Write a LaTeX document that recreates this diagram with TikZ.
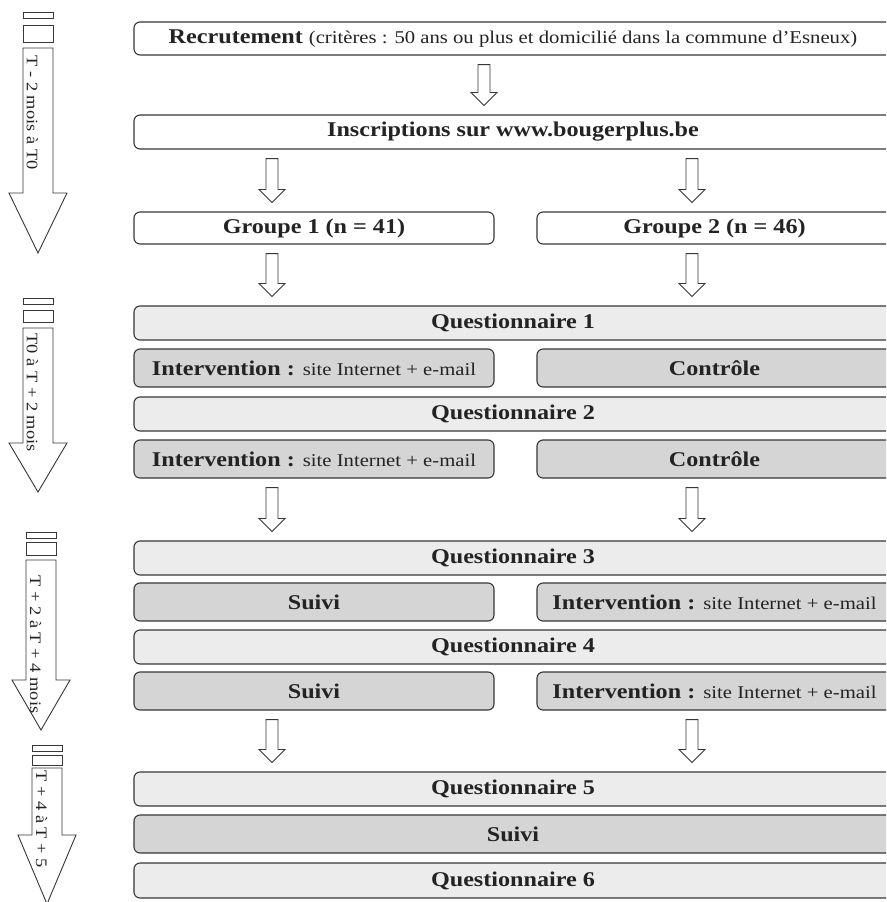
\documentclass[tikz,border=0pt]{standalone}
\usepackage{fontspec}
\setmainfont{Liberation Serif}[FakeStretch=1.15]
\usetikzlibrary{calc}

\definecolor{boxline}{RGB}{55,55,55}
\definecolor{inkgray}{RGB}{35,35,35}
\definecolor{qgray}{RGB}{236,236,236}
\definecolor{stepgray}{RGB}{213,213,213}

\newcommand{\plaintxt}[1]{{\fontsize{18}{20}\selectfont\mdseries #1}}
\newcommand{\hollowarrow}[2]{%
  \draw[blockarrow] let \p1=(#1), \p2=(#2) in
    (\x1-6pt,\y1-9pt) -- (\x1-6pt,\y2+22pt) -- (\x1-13pt,\y2+22pt) -- (\x1,\y2+9pt)
    -- (\x1+13pt,\y2+22pt) -- (\x1+6pt,\y2+22pt) -- (\x1+6pt,\y1-9pt) -- cycle;}

\begin{document}
\begin{tikzpicture}[x=1pt, y=-1pt, line width=1.1pt,
  every node/.style={text=inkgray},
  whitebox/.style={draw=boxline, fill=white, rounded corners=6pt, inner sep=0pt,
    font=\fontsize{21}{24}\selectfont\bfseries},
  fullbox/.style={whitebox, minimum width=758pt, minimum height=34pt},
  qbox/.style={fullbox, fill=qgray},
  graybox/.style={whitebox, fill=stepgray, minimum height=38pt},
  leftbox/.style={graybox, minimum width=360pt},
  rightbox/.style={graybox, minimum width=355pt},
  blockarrow/.style={draw=boxline, fill=white, line width=0.9pt, line join=miter},
  timebox/.style={draw=boxline, fill=white, line width=0.9pt, line join=miter}]

  \useasboundingbox (0,0) rectangle (886,902);
  \clip (0,0) rectangle (886,902);
  \fill[white] (0,0) rectangle (886,902);

  \coordinate (colA) at (272,0);
  \coordinate (colM) at (484,0);
  \coordinate (colB) at (692,0);

  \node[fullbox, minimum height=33pt] (recr) at (513,38.5)
    {Recrutement \plaintxt{(critères : 50 ans ou plus et domicilié dans la commune d’Esneux)}};
  \node[fullbox] (inscr) at (513,132) {Inscriptions sur www.bougerplus.be};
  \node[whitebox, minimum width=360pt, minimum height=32pt] (grpA) at (314,228) {Groupe 1 (n = 41)};
  \node[whitebox, minimum width=355pt, minimum height=32pt] (grpB) at (714.5,228) {Groupe 2 (n = 46)};

  \node[qbox] (q1) at (513,323) {Questionnaire 1};
  \node[leftbox] (intA1) at (314,368) {Intervention : \plaintxt{site Internet + e-mail}};
  \node[rightbox] (ctrlB1) at (714.5,368) {Contrôle};
  \node[qbox] (q2) at (513,414) {Questionnaire 2};
  \node[leftbox] (intA2) at (314,459) {Intervention : \plaintxt{site Internet + e-mail}};
  \node[rightbox] (ctrlB2) at (714.5,459) {Contrôle};

  \node[qbox] (q3) at (513,558) {Questionnaire 3};
  \node[leftbox] (suiviA3) at (314,602) {Suivi};
  \node[rightbox] (intB3) at (714.5,602) {Intervention : \plaintxt{site Internet + e-mail}};
  \node[qbox] (q4) at (513,647) {Questionnaire 4};
  \node[leftbox] (suiviA4) at (314,691) {Suivi};
  \node[rightbox] (intB4) at (714.5,691) {Intervention : \plaintxt{site Internet + e-mail}};

  \node[qbox] (q5) at (513,789) {Questionnaire 5};
  \node[graybox, minimum width=758pt] (suivi5) at (513,834) {Suivi};
  \node[qbox, minimum height=35pt] (q6) at (513,880.5) {Questionnaire 6};

  \hollowarrow{recr.south -| colM}{inscr.north -| colM}
  \hollowarrow{inscr.south -| colA}{grpA.north -| colA}
  \hollowarrow{inscr.south -| colB}{grpB.north -| colB}
  \hollowarrow{grpA.south -| colA}{q1.north -| colA}
  \hollowarrow{grpB.south -| colB}{q1.north -| colB}
  \hollowarrow{intA2.south -| colA}{q3.north -| colA}
  \hollowarrow{ctrlB2.south -| colB}{q3.north -| colB}
  \hollowarrow{suiviA4.south -| colA}{q5.north -| colA}
  \hollowarrow{intB4.south -| colB}{q5.north -| colB}

  \foreach \ya/\yb/\yc/\ys/\yh/\yt/\yl/\dx/\lab in {
      12/25/42/48/193/253/55/0/{T - 2 mois à T0},
      298/310/322/328/443/492/333/0/{T0 à T + 2 mois},
      532/542/555/560/680/730/575/3/{T + 2 à T + 4 mois},
      745/755/765/768/835/904/770/9/{T + 4 à T + 5}} {
    \draw[timebox] (23+\dx,\ya) rectangle (53+\dx,\ya+6);
    \draw[timebox] (23+\dx,\yb) rectangle (53+\dx,\yc);
    \draw[timebox] (23+\dx,\ys) -- (23+\dx,\yh) -- (9+\dx,\yh) -- (38+\dx,\yt)
      -- (67+\dx,\yh) -- (53+\dx,\yh) -- (53+\dx,\ys) -- cycle;
    \node[rotate=-90, anchor=base west, inner sep=0pt, font=\fontsize{16}{18}\selectfont]
      (per\ya) at (27+\dx,\yl) {\lab};
  }

\end{tikzpicture}
\end{document}
